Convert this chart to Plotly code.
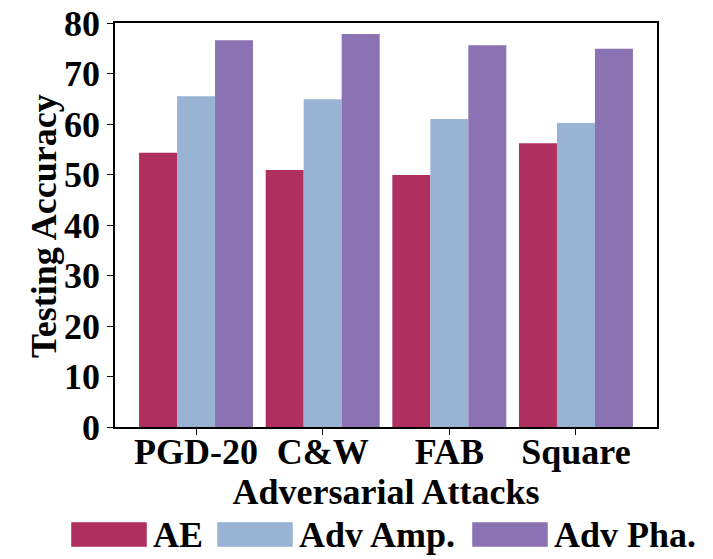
import plotly.graph_objects as go

categories = ["PGD-20", "C&W", "FAB", "Square"]
series_names = ["AE", "Adv Amp.", "Adv Pha."]
ae_values = [54.3, 50.9, 49.9, 56.2]
adv_amp_values = [65.5, 64.9, 61.0, 60.2]
adv_pha_values = [76.6, 77.8, 75.6, 74.9]
y_ticks = [0, 10, 20, 30, 40, 50, 60, 70, 80]

colors = ["#AF2F5E", "#99B3D5", "#8B72B3"]
all_values = [ae_values, adv_amp_values, adv_pha_values]

# the page has an 8px body margin, so the figure is sized to fit the window
OFF = 8
W, H = 713 - OFF, 559 - OFF
L, T = 115 - OFF, 23 - OFF
R = W - (657 - OFF)
B = H - (427 - OFF)
pw, ph = W - L - R, H - T - B

FONT = dict(family="Liberation Serif, Times New Roman, serif", color="black", weight="bold")

fig = go.Figure()
for name, vals, col in zip(series_names, all_values, colors):
    fig.add_trace(go.Bar(x=list(range(len(categories))), y=vals, name=name,
                         marker=dict(color=col, line=dict(width=0)),
                         showlegend=False))

fig.update_layout(
    width=W, height=H,
    margin=dict(l=L, r=R, t=T, b=B, autoexpand=False),
    paper_bgcolor="white", plot_bgcolor="white",
    barmode="group", bargap=0.1, bargroupgap=0,
    font=dict(size=36, **FONT),
    xaxis=dict(range=[-0.64, 3.64], tickmode="array",
               tickvals=list(range(len(categories))), ticktext=categories,
               showline=True, linecolor="black", linewidth=1.5, mirror=True,
               ticks="outside", ticklen=6, tickwidth=1.2, tickcolor="black",
               showgrid=False, zeroline=False, automargin=False,
               ticklabelstandoff=-14,
               tickfont=dict(size=36, **FONT),
               title=dict(text="Adversarial Attacks", font=dict(size=36, **FONT), standoff=0)),
    yaxis=dict(range=[0, 80], tickmode="array", tickvals=y_ticks,
               showline=True, linecolor="black", linewidth=1.5, mirror=True,
               ticks="outside", ticklen=6, tickwidth=1.2, tickcolor="black",
               showgrid=False, zeroline=False, automargin=False,
               ticklabelstandoff=0, ticklabeloverflow="allow",
               tickfont=dict(size=36, **FONT)),
)

def px2x(px):
    return (px - OFF - L) / pw
def px2y(py):
    return (H - B - (py - OFF)) / ph

# y-axis title
fig.add_annotation(xref="paper", yref="paper", x=px2x(44), y=px2y(226),
                   text="Testing Accuracy", textangle=-90, showarrow=False,
                   xanchor="center", yanchor="middle", font=dict(size=36, **FONT))

# Manual legend with large swatches (pixel positions in the window)
swatch_x = [71, 217, 472]
swatch_w, swatch_top, swatch_bot = 76, 522, 547
for name, col, sx in zip(series_names, colors, swatch_x):
    fig.add_shape(type="rect", xref="paper", yref="paper",
                  x0=px2x(sx), x1=px2x(sx + swatch_w),
                  y0=px2y(swatch_bot), y1=px2y(swatch_top),
                  fillcolor=col, line=dict(width=0.8, color="rgba(255,255,255,0.6)"))
    fig.add_annotation(xref="paper", yref="paper", x=px2x(sx + swatch_w + 4),
                       y=px2y((swatch_top + swatch_bot) / 2), text=name,
                       showarrow=False, xanchor="left", yanchor="middle",
                       font=dict(size=36, **FONT))

fig.write_html("out.html")
